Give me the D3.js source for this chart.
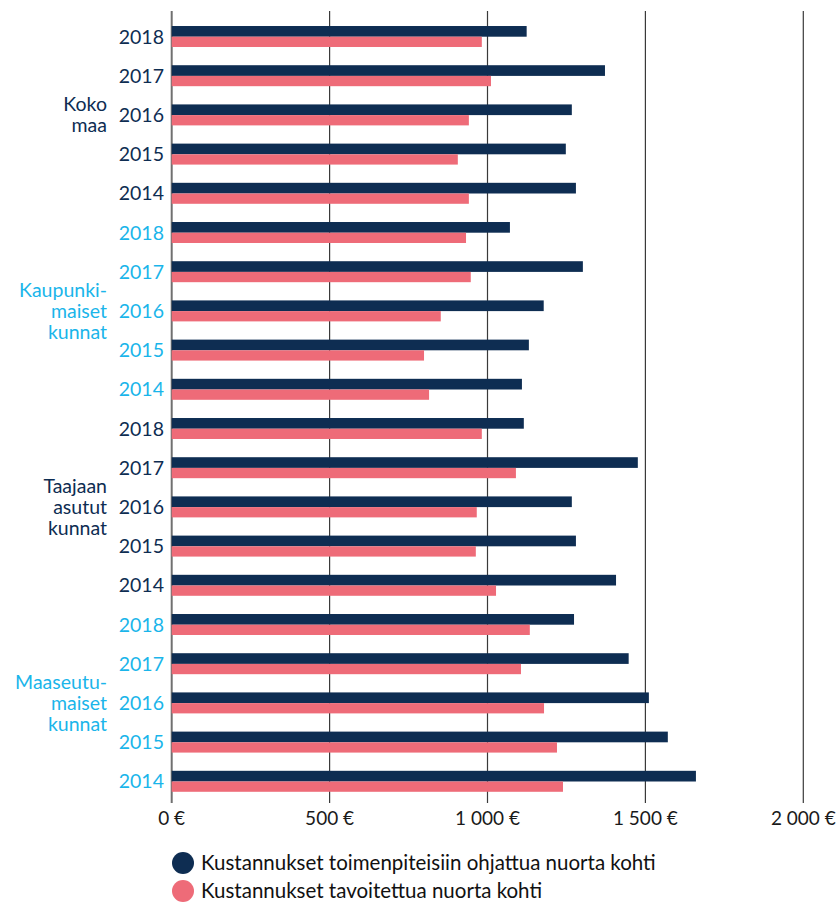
<!DOCTYPE html>
<html>
<head>
<meta charset="utf-8">
<script src="https://cdn.jsdelivr.net/npm/d3@7"></script>
<style>
  html, body { margin: 0; padding: 0; background: #fff; }
  svg { display: block; font-family: Lato, "Open Sans", sans-serif; }
</style>
</head>
<body>
<svg id="chart" width="839" height="903"></svg>
<script>
// Municipality groups and years (top to bottom within each group)
const groups = [
  { name: ["Koko", "maa"], colour: "#0e2d52" },
  { name: ["Kaupunki-", "maiset", "kunnat"], colour: "#1ab5ea" },
  { name: ["Taajaan", "asutut", "kunnat"], colour: "#0e2d52" },
  { name: ["Maaseutu-", "maiset", "kunnat"], colour: "#1ab5ea" }
];
const years = ["2018", "2017", "2016", "2015", "2014"];

// Cost per young person directed to measures (€), one array per group, years as above
const directed = [
  [1124, 1372, 1267, 1248, 1280],
  [1071, 1302, 1178, 1131, 1109],
  [1115, 1476, 1267, 1280, 1407],
  [1274, 1447, 1511, 1571, 1660]
];
// Cost per young person reached (€)
const reached = [
  [982, 1011, 941, 906, 941],
  [932, 947, 852, 799, 815],
  [982, 1090, 966, 963, 1027],
  [1134, 1106, 1179, 1220, 1239]
];

const xTicks = [0, 500, 1000, 1500, 2000];
const seriesNames = [
  "Kustannukset toimenpiteisiin ohjattua nuorta kohti",
  "Kustannukset tavoitettua nuorta kohti"
];
const seriesColours = ["#0e2d52", "#ee6b78"];

// Flatten into rows
const rows = [];
groups.forEach((g, gi) => {
  years.forEach((y, yi) => {
    rows.push({ key: gi + "-" + y, group: gi, year: y, values: [directed[gi][yi], reached[gi][yi]] });
  });
});

const svg = d3.select("#chart");
const x = d3.scaleLinear().domain([0, 2000]).range([171.7, 803.3]);
const y = d3.scaleBand().domain(rows.map(r => r.key)).range([16.9, 800.9]).paddingInner(0.465).paddingOuter(0.2325);
const sub = d3.scaleBand().domain([0, 1]).range([0, y.bandwidth()]);

// Vertical gridlines (including the zero line)
svg.append("g").selectAll("line")
  .data(xTicks)
  .join("line")
  .attr("x1", d => x(d)).attr("x2", d => x(d))
  .attr("y1", 11).attr("y2", 803)
  .attr("stroke", d => d === 0 ? "#707070" : "#3a3a3a")
  .attr("stroke-width", d => d === 0 ? 2 : 1.2);

// Bars
const rowG = svg.append("g").selectAll("g")
  .data(rows)
  .join("g")
  .attr("transform", d => `translate(0,${y(d.key)})`);

rowG.selectAll("rect")
  .data(d => d.values.map((v, i) => ({ v, i })))
  .join("rect")
  .attr("x", x(0))
  .attr("y", d => d.i === 0 ? 0 : sub(1) + 0.2)
  .attr("width", d => x(d.v) - x(0))
  .attr("height", d => d.i === 0 ? sub.bandwidth() + 0.2 : sub.bandwidth() - 0.2)
  .attr("fill", d => seriesColours[d.i]);

// Year labels
svg.append("g").selectAll("text")
  .data(rows)
  .join("text")
  .attr("x", 164)
  .attr("y", d => y(d.key) + y.bandwidth() / 2)
  .attr("dy", "0.36em")
  .attr("text-anchor", "end")
  .attr("font-size", 19.5)
  .attr("fill", d => groups[d.group].colour)
  .text(d => d.year);

// Group labels, centred on each group's middle row
groups.forEach((g, gi) => {
  const mid = y(gi + "-" + years[2]) + y.bandwidth() / 2;
  const lh = 21;
  const t = svg.append("text")
    .attr("text-anchor", "end")
    .attr("font-size", 19.5)
    .attr("fill", g.colour);
  g.name.forEach((line, li) => {
    t.append("tspan")
      .attr("x", 107)
      .attr("y", mid + (li - (g.name.length - 1) / 2) * lh)
      .attr("dy", "0.36em")
      .text(line);
  });
});

// X axis tick labels, with a space as thousands separator
const fmt = v => d3.format(",")(v).replace(/,/g, " ") + " €";
svg.append("g").selectAll("text")
  .data(xTicks)
  .join("text")
  .attr("x", d => x(d))
  .attr("y", 818)
  .attr("dy", "0.36em")
  .attr("text-anchor", "middle")
  .attr("font-size", 19)
  .attr("fill", "#1a1a1a")
  .text(fmt);

// Legend
const leg = svg.append("g").selectAll("g")
  .data(seriesNames)
  .join("g")
  .attr("transform", (d, i) => `translate(183,${863 + i * 28})`);
leg.append("circle").attr("r", 11).attr("fill", (d, i) => seriesColours[i]);
leg.append("text")
  .attr("x", 18)
  .attr("dy", "0.36em")
  .attr("font-size", 20.5)
  .attr("fill", "#111")
  .text(d => d);
</script>
</body>
</html>
